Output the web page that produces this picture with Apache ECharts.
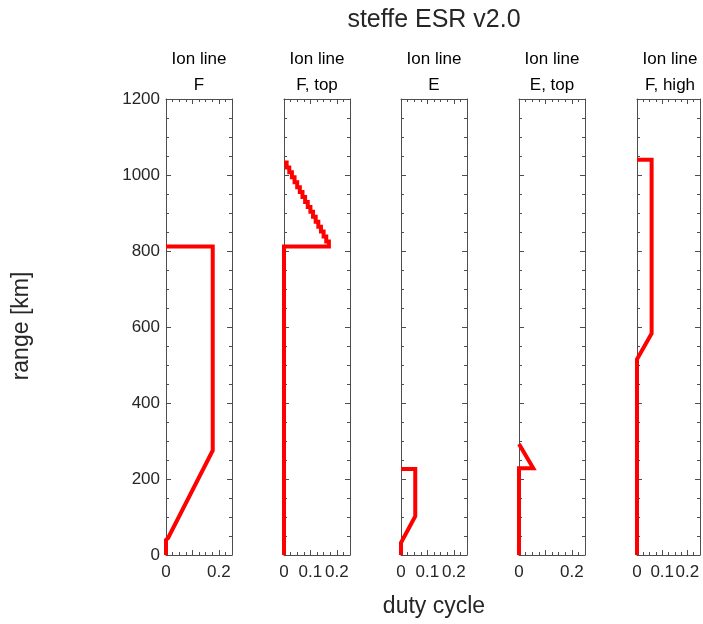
<!DOCTYPE html>
<html>
<head>
<meta charset="utf-8">
<script src="https://cdn.jsdelivr.net/npm/echarts@6/dist/echarts.min.js"></script>
<style>
  html, body { margin: 0; padding: 0; background: #fff; }
  #chart { width: 703px; height: 624px; }
</style>
</head>
<body>
<div id="chart"></div>
<script>
// Duty cycle versus range for each ion-line receiver band
const chartTitle = 'steffe ESR v2.0';
const panelTitles = ['F', 'F, top', 'E', 'E, top', 'F, high'];
const yLabel = 'range [km]';
const xLabel = 'duty cycle';

const yMin = 0, yMax = 1200, yStep = 200;
const xMin = 0, xMax = 0.25, xStep = 0.1;

// Tick labels shown on each panel's x axis (by tick value)
const xTickLabels = [
  { '0': '0', '0.2': '0.2' },
  { '0': '0', '0.1': '0.1', '0.2': '0.2' },
  { '0': '0', '0.1': '0.1', '0.2': '0.2' },
  { '0': '0', '0.2': '0.2' },
  { '0': '0', '0.1': '0.1', '0.2': '0.2' }
];

// [duty cycle, range km]
const dutyF = [[0, 0], [0, 40], [0.008, 45], [0.177, 275], [0.177, 812], [0, 812]];
const dutyFtop = [
  [0, 0], [0, 812], [0.17, 812],
  [0.17, 825], [0.16, 825], [0.16, 838], [0.15, 838], [0.15, 851], [0.14, 851],
  [0.14, 864], [0.13, 864], [0.13, 877], [0.12, 877], [0.12, 890], [0.11, 890],
  [0.11, 903], [0.10, 903], [0.10, 916], [0.09, 916], [0.09, 929], [0.08, 929],
  [0.08, 942], [0.07, 942], [0.07, 955], [0.06, 955], [0.06, 968], [0.05, 968],
  [0.05, 981], [0.04, 981], [0.04, 994], [0.03, 994], [0.03, 1007], [0.02, 1007],
  [0.02, 1020], [0.01, 1020], [0.01, 1033], [0, 1033]
];
const dutyE = [[0, 0], [0, 32], [0.054, 102], [0.054, 226], [0, 226]];
const dutyEtop = [[0, 0], [0, 228], [0.054, 228], [0, 292]];
const dutyFhigh = [[0, 0], [0, 515], [0.058, 583], [0.058, 1040], [0, 1040]];
const panelData = [dutyF, dutyFtop, dutyE, dutyEtop, dutyFhigh];

const FONT = '"Liberation Sans", Arial, Helvetica, sans-serif';
const TEXT = '#262626';
const AXIS = '#4d4d4d';

const panelLeft = [166, 284, 401, 519, 637];
const panelWidth = 66;
const gridTop = 99, gridHeight = 456;

const grids = [], xAxes = [], yAxes = [], series = [], texts = [];

function fmtKey(v) { return String(Math.round(v * 1000) / 1000); }

panelLeft.forEach(function (left, i) {
  grids.push({ left: left, top: gridTop, width: panelWidth, height: gridHeight });
  const labels = xTickLabels[i];
  const baseX = {
    type: 'value', gridIndex: i, min: xMin, max: xMax, interval: xStep,
    axisLine: { show: true, onZero: false, lineStyle: { color: AXIS, width: 1 } },
    axisTick: { show: true, inside: true, length: 5, lineStyle: { color: AXIS } },
    minorTick: { show: true, splitNumber: 4, length: 3, lineStyle: { color: AXIS } },
    splitLine: { show: false }
  };
  xAxes.push(Object.assign({}, baseX, {
    position: 'bottom',
    axisLabel: {
      show: true, margin: 9, fontSize: 17, color: TEXT, fontFamily: FONT,
      showMinLabel: true, showMaxLabel: true, hideOverlap: false,
      formatter: function (v) { return labels[fmtKey(v)] || ''; }
    }
  }));
  xAxes.push(Object.assign({}, baseX, { position: 'top', axisLabel: { show: false } }));

  const baseY = {
    type: 'value', gridIndex: i, min: yMin, max: yMax, interval: yStep,
    axisLine: { show: true, onZero: false, lineStyle: { color: AXIS, width: 1 } },
    axisTick: { show: true, inside: true, length: 5, lineStyle: { color: AXIS } },
    minorTick: { show: true, splitNumber: 4, length: 3, lineStyle: { color: AXIS } },
    splitLine: { show: false }
  };
  yAxes.push(Object.assign({}, baseY, {
    position: 'left',
    axisLabel: {
      show: i === 0, margin: 6, fontSize: 17, color: TEXT, fontFamily: FONT,
      formatter: function (v) { return String(v); }
    }
  }));
  yAxes.push(Object.assign({}, baseY, { position: 'right', axisLabel: { show: false } }));

  series.push({
    type: 'line', xAxisIndex: 2 * i, yAxisIndex: 2 * i,
    data: panelData[i], symbol: 'none', clip: false, animation: false,
    lineStyle: { color: '#ff0000', width: 4, join: 'miter' }, z: 5
  });

  const cx = left + panelWidth / 2;
  texts.push({ type: 'text', x: cx, y: 59, style: { text: 'Ion line', fontSize: 17, fontFamily: FONT, fill: '#000', align: 'center', verticalAlign: 'middle' } });
  texts.push({ type: 'text', x: cx, y: 85, style: { text: panelTitles[i], fontSize: 17, fontFamily: FONT, fill: '#000', align: 'center', verticalAlign: 'middle' } });
});

texts.push({ type: 'text', x: 434, y: 20, style: { text: chartTitle, fontSize: 25, fontFamily: FONT, fill: TEXT, align: 'center', verticalAlign: 'middle' } });
texts.push({ type: 'text', x: 434, y: 607, style: { text: xLabel, fontSize: 23, fontFamily: FONT, fill: TEXT, align: 'center', verticalAlign: 'middle' } });
texts.push({ type: 'text', x: 22, y: 326, rotation: Math.PI / 2, style: { text: yLabel, fontSize: 23, fontFamily: FONT, fill: TEXT, align: 'center', verticalAlign: 'middle' } });

const chart = echarts.init(document.getElementById('chart'), null, { renderer: 'canvas' });
chart.setOption({
  backgroundColor: '#ffffff',
  animation: false,
  grid: grids,
  xAxis: xAxes,
  yAxis: yAxes,
  series: series,
  graphic: { elements: texts }
});
</script>
</body>
</html>
